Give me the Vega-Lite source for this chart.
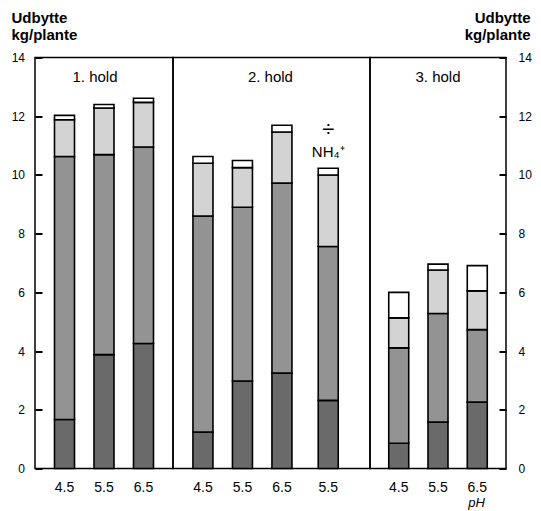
{
  "$schema": "https://vega.github.io/schema/vega-lite/v6.json",
  "padding": {"left": 10, "top": 9.5, "right": 5, "bottom": 5},
  "bounds": "flush",
  "spacing": 0,
  "datasets": {
    "udbytte": [
      {"hold": "1. hold", "pH": "4.5", "fraktion": "A", "lag": 1, "kg": 1.67},
      {"hold": "1. hold", "pH": "4.5", "fraktion": "B", "lag": 2, "kg": 8.96},
      {"hold": "1. hold", "pH": "4.5", "fraktion": "C", "lag": 3, "kg": 1.25},
      {"hold": "1. hold", "pH": "4.5", "fraktion": "D", "lag": 4, "kg": 0.15},
      {"hold": "1. hold", "pH": "5.5", "fraktion": "A", "lag": 1, "kg": 3.88},
      {"hold": "1. hold", "pH": "5.5", "fraktion": "B", "lag": 2, "kg": 6.81},
      {"hold": "1. hold", "pH": "5.5", "fraktion": "C", "lag": 3, "kg": 1.59},
      {"hold": "1. hold", "pH": "5.5", "fraktion": "D", "lag": 4, "kg": 0.12},
      {"hold": "1. hold", "pH": "6.5", "fraktion": "A", "lag": 1, "kg": 4.26},
      {"hold": "1. hold", "pH": "6.5", "fraktion": "B", "lag": 2, "kg": 6.69},
      {"hold": "1. hold", "pH": "6.5", "fraktion": "C", "lag": 3, "kg": 1.52},
      {"hold": "1. hold", "pH": "6.5", "fraktion": "D", "lag": 4, "kg": 0.14},
      {"hold": "2. hold", "pH": "4.5", "fraktion": "A", "lag": 1, "kg": 1.24},
      {"hold": "2. hold", "pH": "4.5", "fraktion": "B", "lag": 2, "kg": 7.36},
      {"hold": "2. hold", "pH": "4.5", "fraktion": "C", "lag": 3, "kg": 1.80},
      {"hold": "2. hold", "pH": "4.5", "fraktion": "D", "lag": 4, "kg": 0.23},
      {"hold": "2. hold", "pH": "5.5", "fraktion": "A", "lag": 1, "kg": 2.98},
      {"hold": "2. hold", "pH": "5.5", "fraktion": "B", "lag": 2, "kg": 5.92},
      {"hold": "2. hold", "pH": "5.5", "fraktion": "C", "lag": 3, "kg": 1.35},
      {"hold": "2. hold", "pH": "5.5", "fraktion": "D", "lag": 4, "kg": 0.24},
      {"hold": "2. hold", "pH": "6.5", "fraktion": "A", "lag": 1, "kg": 3.25},
      {"hold": "2. hold", "pH": "6.5", "fraktion": "B", "lag": 2, "kg": 6.47},
      {"hold": "2. hold", "pH": "6.5", "fraktion": "C", "lag": 3, "kg": 1.74},
      {"hold": "2. hold", "pH": "6.5", "fraktion": "D", "lag": 4, "kg": 0.23},
      {"hold": "2. hold", "pH": "5.5 ÷NH4", "fraktion": "A", "lag": 1, "kg": 2.32},
      {"hold": "2. hold", "pH": "5.5 ÷NH4", "fraktion": "B", "lag": 2, "kg": 5.24},
      {"hold": "2. hold", "pH": "5.5 ÷NH4", "fraktion": "C", "lag": 3, "kg": 2.44},
      {"hold": "2. hold", "pH": "5.5 ÷NH4", "fraktion": "D", "lag": 4, "kg": 0.23},
      {"hold": "3. hold", "pH": "4.5", "fraktion": "A", "lag": 1, "kg": 0.86},
      {"hold": "3. hold", "pH": "4.5", "fraktion": "B", "lag": 2, "kg": 3.25},
      {"hold": "3. hold", "pH": "4.5", "fraktion": "C", "lag": 3, "kg": 1.02},
      {"hold": "3. hold", "pH": "4.5", "fraktion": "D", "lag": 4, "kg": 0.87},
      {"hold": "3. hold", "pH": "5.5", "fraktion": "A", "lag": 1, "kg": 1.58},
      {"hold": "3. hold", "pH": "5.5", "fraktion": "B", "lag": 2, "kg": 3.70},
      {"hold": "3. hold", "pH": "5.5", "fraktion": "C", "lag": 3, "kg": 1.48},
      {"hold": "3. hold", "pH": "5.5", "fraktion": "D", "lag": 4, "kg": 0.20},
      {"hold": "3. hold", "pH": "6.5", "fraktion": "A", "lag": 1, "kg": 2.26},
      {"hold": "3. hold", "pH": "6.5", "fraktion": "B", "lag": 2, "kg": 2.47},
      {"hold": "3. hold", "pH": "6.5", "fraktion": "C", "lag": 3, "kg": 1.32},
      {"hold": "3. hold", "pH": "6.5", "fraktion": "D", "lag": 4, "kg": 0.86}
    ]
  },
  "config": {
    "view": {"stroke": "black", "strokeWidth": 1.5},
    "font": "Liberation Sans",
    "text": {"font": "Liberation Sans", "color": "black"},
    "axis": {"labelColor": "black", "titleColor": "black", "grid": false, "labelFont": "Liberation Sans", "titleFont": "Liberation Sans"}
  },
  "hconcat": [
    {
      "width": 138,
      "height": 411,
      "layer": [
        {
          "data": {"name": "udbytte"},
          "transform": [{"filter": "datum.hold == '1. hold'"}],
          "mark": {"type": "bar", "size": 20, "stroke": "black", "strokeWidth": 1.6},
          "encoding": {
            "x": {"field": "pH", "type": "nominal", "sort": null,
                  "scale": {"type": "band", "domain": ["4.5", "5.5", "6.5"], "paddingInner": 0, "paddingOuter": 0.247, "round": false},
                  "axis": {"orient": "bottom", "title": null, "domain": false, "ticks": false, "labelAngle": 0, "labelFontSize": 14, "labelPadding": 12}},
            "y": {"field": "kg", "type": "quantitative", "stack": "zero",
                  "scale": {"domain": [0, 14], "nice": false, "zero": true},
                  "axis": {"orient": "left", "offset": -7, "ticks": true, "values": [0,1,2,3,4,5,6,7,8,9,10,11,12,13,14],
                           "labelExpr": "datum.value % 2 == 0 ? datum.label : ''",
                           "domain": false, "tickSize": 7, "tickColor": "black", "tickWidth": 2, "labelPadding": 10.5, "labelFontSize": 12,
                           "title": ["Udbytte", "kg/plante"], "titleAngle": 0, "titleAlign": "left", "titleBaseline": "alphabetic",
                           "titleX": -31, "titleY": -35, "titleFontSize": 15, "titleFontWeight": "bold", "titleLineHeight": 16.6}},
            "color": {"field": "fraktion", "type": "nominal", "scale": {"domain": ["A", "B", "C", "D"], "range": ["#6a6a6a", "#939393", "#d3d3d3", "#ffffff"]}, "legend": null},
            "order": {"field": "lag", "type": "quantitative"}
          }
        },
        {
          "data": {"values": [{"hold": "1. hold"}]},
          "mark": {"type": "text", "fontSize": 15, "dx": -9, "baseline": "alphabetic", "align": "center"},
          "encoding": {"x": {"datum": "5.5"}, "y": {"datum": 13.15}, "text": {"field": "hold"}}
        }
      ]
    },
    {
      "width": 197,
      "height": 411,
      "layer": [
        {
          "layer": [
            {
              "data": {"name": "udbytte"},
              "transform": [{"filter": "datum.hold == '2. hold' && datum.pH != '5.5 ÷NH4'"}],
              "mark": {"type": "bar", "size": 20, "stroke": "black", "strokeWidth": 1.6},
              "encoding": {
                "x": {"field": "pH", "type": "nominal", "sort": null,
                      "scale": {"type": "band", "domain": ["4.5", "5.5", "6.5"], "paddingInner": 0, "paddingOuter": 0.994, "align": 0.13, "round": false},
                      "axis": {"orient": "bottom", "title": null, "domain": false, "ticks": false, "labelAngle": 0, "labelFontSize": 14, "labelPadding": 12}},
                "y": {"field": "kg", "type": "quantitative", "stack": "zero", "scale": {"domain": [0, 14], "nice": false, "zero": true}, "axis": null},
                "color": {"field": "fraktion", "type": "nominal", "scale": {"domain": ["A", "B", "C", "D"], "range": ["#6a6a6a", "#939393", "#d3d3d3", "#ffffff"]}, "legend": null},
                "order": {"field": "lag", "type": "quantitative"}
              }
            },
            {
              "data": {"values": [{"hold": "2. hold"}]},
              "mark": {"type": "text", "fontSize": 15, "dx": -11.5, "baseline": "alphabetic", "align": "center"},
              "encoding": {"x": {"datum": "6.5"}, "y": {"datum": 13.15, "axis": null}, "text": {"field": "hold"}}
            }
          ]
        },
        {
          "layer": [
            {
              "data": {"name": "udbytte"},
              "transform": [{"filter": "datum.pH == '5.5 ÷NH4'"}],
              "mark": {"type": "bar", "size": 20, "stroke": "black", "strokeWidth": 1.6},
              "encoding": {
                "x": {"field": "pH", "type": "nominal", "sort": null,
                      "scale": {"type": "band", "domain": ["5.5 ÷NH4"], "paddingInner": 0, "paddingOuter": 1.994, "align": 0.932, "round": false},
                      "axis": {"orient": "bottom", "title": null, "domain": false, "ticks": false, "labelAngle": 0, "labelFontSize": 14, "labelPadding": 12, "labelExpr": "'5.5'"}},
                "y": {"field": "kg", "type": "quantitative", "stack": "zero", "scale": {"domain": [0, 14], "nice": false, "zero": true}, "axis": null},
                "color": {"field": "fraktion", "type": "nominal", "scale": {"domain": ["A", "B", "C", "D"], "range": ["#6a6a6a", "#939393", "#d3d3d3", "#ffffff"]}, "legend": null},
                "order": {"field": "lag", "type": "quantitative"}
              }
            },
            {
              "data": {"values": [{"t": "÷"}]},
              "mark": {"type": "text", "fontSize": 22, "baseline": "middle", "align": "center"},
              "encoding": {"x": {"datum": "5.5 ÷NH4"}, "y": {"datum": 11.58, "axis": null}, "text": {"field": "t"}}
            },
            {
              "data": {"values": [{"t": "NH₄⁺"}]},
              "mark": {"type": "text", "fontSize": 15, "baseline": "middle", "align": "center"},
              "encoding": {"x": {"datum": "5.5 ÷NH4"}, "y": {"datum": 10.78, "axis": null}, "text": {"field": "t"}}
            }
          ]
        }
      ],
      "resolve": {"scale": {"x": "independent"}, "axis": {"x": "independent"}}
    },
    {
      "width": 136,
      "height": 411,
      "layer": [
        {
          "data": {"name": "udbytte"},
          "transform": [{"filter": "datum.hold == '3. hold'"}],
          "mark": {"type": "bar", "size": 20, "stroke": "black", "strokeWidth": 1.6},
          "encoding": {
            "x": {"field": "pH", "type": "nominal", "sort": null,
                  "scale": {"type": "band", "domain": ["4.5", "5.5", "6.5"], "paddingInner": 0, "paddingOuter": 0.232, "round": false},
                  "axis": {"orient": "bottom", "title": "pH", "domain": false, "ticks": false, "labelAngle": 0, "labelFontSize": 14, "labelPadding": 12,
                           "titleX": 106, "titleY": 38, "titleAlign": "center", "titleBaseline": "alphabetic", "titleFontSize": 13, "titleFontStyle": "italic", "titleFontWeight": "normal"}},
            "y": {"field": "kg", "type": "quantitative", "stack": "zero",
                  "scale": {"domain": [0, 14], "nice": false, "zero": true},
                  "axis": {"orient": "right", "offset": -7, "ticks": true, "values": [0,1,2,3,4,5,6,7,8,9,10,11,12,13,14],
                           "labelExpr": "datum.value % 2 == 0 ? datum.label : ''",
                           "domain": false, "tickSize": 7, "tickColor": "black", "tickWidth": 2, "labelPadding": 12, "labelFontSize": 12,
                           "title": ["Udbytte", "kg/plante"], "titleAngle": 0, "titleAlign": "right", "titleBaseline": "alphabetic",
                           "titleX": 31, "titleY": -35, "titleFontSize": 15, "titleFontWeight": "bold", "titleLineHeight": 16.6}},
            "color": {"field": "fraktion", "type": "nominal", "scale": {"domain": ["A", "B", "C", "D"], "range": ["#6a6a6a", "#939393", "#d3d3d3", "#ffffff"]}, "legend": null},
            "order": {"field": "lag", "type": "quantitative"}
          }
        },
        {
          "data": {"values": [{"hold": "3. hold"}]},
          "mark": {"type": "text", "fontSize": 15, "baseline": "alphabetic", "align": "center"},
          "encoding": {"x": {"datum": "5.5"}, "y": {"datum": 13.15}, "text": {"field": "hold"}}
        }
      ]
    }
  ]
}
